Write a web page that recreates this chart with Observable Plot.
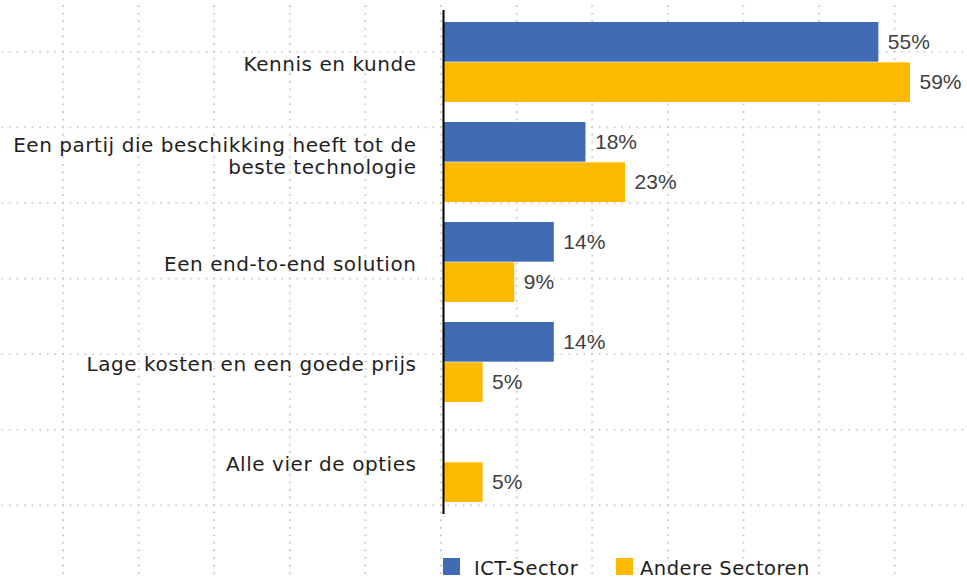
<!DOCTYPE html>
<html>
<head>
<meta charset="utf-8">
<script src="https://cdn.jsdelivr.net/npm/d3@7"></script>
<script src="https://cdn.jsdelivr.net/npm/@observablehq/plot@0.6"></script>
<style>
html, body { margin: 0; padding: 0; background: #fff; }
#wrap { position: relative; width: 967px; height: 579px; overflow: hidden; font-family: "DejaVu Sans", sans-serif; }
#grid { position: absolute; left: 0; top: 0; }
#chart { position: absolute; left: 0; top: 0; }
#chart g[aria-description="category labels"] { letter-spacing: 0.55px; }
.leg-sw { position: absolute; width: 17px; height: 17px; top: 558px; }
.leg-tx { position: absolute; top: 559px; line-height: 20px; font-size: 19.5px; letter-spacing: 0.5px; color: #1e1e1e; white-space: nowrap; }
</style>
</head>
<body>
<div id="wrap">
  <svg id="grid" width="967" height="579">
    <defs>
      <pattern id="dots" patternUnits="userSpaceOnUse" x="62" y="50.7" width="75.6" height="75.6">
        <line x1="1" y1="0" x2="1" y2="75.6" stroke="#bdbdbd" stroke-width="1.7" stroke-dasharray="1.6 5.96"/>
        <line x1="0" y1="1" x2="75.6" y2="1" stroke="#bdbdbd" stroke-width="1.7" stroke-dasharray="1.6 5.96"/>
      </pattern>
    </defs>
    <rect width="967" height="579" fill="url(#dots)"/>
  </svg>
  <div id="chart"></div>
</div>
<script>
// ---- data ----
const categories = [
  "Kennis en kunde",
  "Een partij die beschikking heeft tot de\nbeste technologie",
  "Een end-to-end solution",
  "Lage kosten en een goede prijs",
  "Alle vier de opties"
];
const seriesNames = ["ICT-Sector", "Andere Sectoren"];
const ictValues = [55, 18, 14, 14, null];
const andereValues = [59, 23, 9, 5, 5];
const seriesColors = ["#3f6cb3", "#fbb900"];

const rows = categories.flatMap((c, i) => [
  {cat: c, series: seriesNames[0], value: ictValues[i]},
  {cat: c, series: seriesNames[1], value: andereValues[i]}
]).filter(d => d.value != null);

// ---- layout ----
const W = 967, H = 530, mT = 10, mB = 16, mL = 443;
const pIn = 0.2, pOut = 0.1;
const step = (H - mT - mB) / (categories.length - pIn + 2 * pOut);
const half = step * (1 - pIn) / 2;

const ict = rows.filter(d => d.series === seriesNames[0]);
const andere = rows.filter(d => d.series === seriesNames[1]);
const valueText = {x: "value", y: "cat", text: d => d.value + "%", dx: 9, textAnchor: "start",
  fontSize: 21, fill: "#404040", fontFamily: "Liberation Sans, Arial, sans-serif"};
const labelOpts = {y: d => d, text: d => d, frameAnchor: "left", dx: -27, textAnchor: "end",
  fontSize: 20, fill: "#1f1f1f", fontFamily: "DejaVu Sans, sans-serif", lineHeight: 1.12,
  ariaDescription: "category labels"};

const chart = Plot.plot({
  width: W, height: H,
  marginTop: mT, marginBottom: mB, marginLeft: mL, marginRight: 0,
  style: {background: "transparent", overflow: "visible"},
  x: {domain: [0, 66.2], axis: null},
  y: {domain: categories, paddingInner: pIn, paddingOuter: pOut, axis: null},
  color: {domain: seriesNames, range: seriesColors},
  marks: [
    Plot.barX(ict, {x: "value", y: "cat", fill: "series", insetBottom: half}),
    Plot.barX(andere, {x: "value", y: "cat", fill: "series", insetTop: half}),
    Plot.text(ict, {...valueText, dy: -half / 2}),
    Plot.text(andere, {...valueText, dy: half / 2}),
    Plot.ruleX([0], {stroke: "#000", strokeWidth: 2}),
    Plot.text(categories.filter(c => !c.includes("\n")), {...labelOpts, dy: 1}),
    Plot.text(categories.filter(c => c.includes("\n")), {...labelOpts, dy: -6.5})
  ]
});
document.getElementById("chart").appendChild(chart);

// ---- legend ----
const wrap = document.getElementById("wrap");
const swLeft = [443, 616], txLeft = [474, 640];
seriesNames.forEach((name, i) => {
  const sw = document.createElement("div");
  sw.className = "leg-sw";
  sw.style.left = swLeft[i] + "px";
  sw.style.background = seriesColors[i];
  wrap.appendChild(sw);
  const tx = document.createElement("div");
  tx.className = "leg-tx";
  tx.style.left = txLeft[i] + "px";
  tx.textContent = name;
  wrap.appendChild(tx);
});
</script>
</body>
</html>
